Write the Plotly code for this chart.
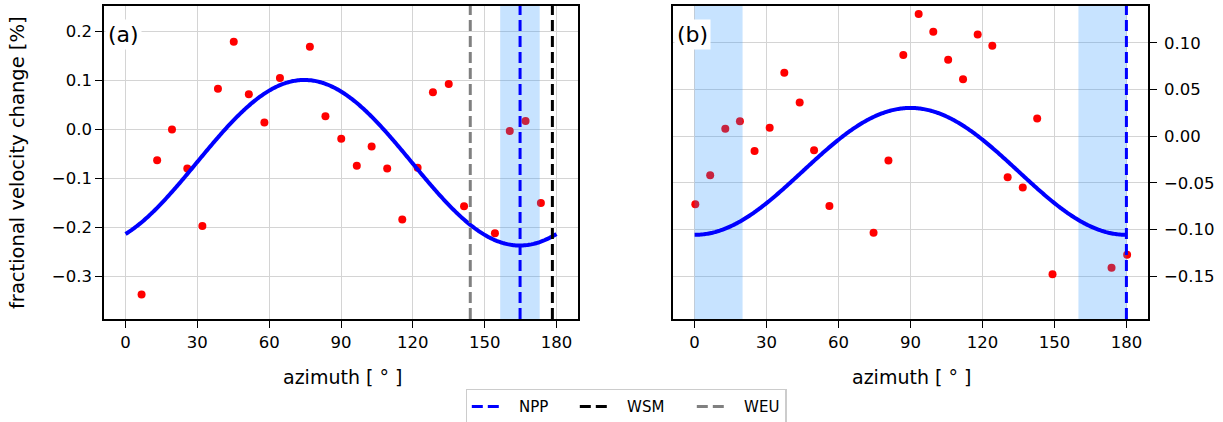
import numpy as np
import plotly.graph_objects as go

# ---------------- data ----------------
az_a = [6.7, 13.2, 19.4, 25.8, 32.1, 38.6, 45.2, 51.5, 58.0, 64.5, 77.0, 83.5,
        90.1, 96.6, 102.8, 109.3, 115.6, 122.0, 128.4, 135.0, 141.4, 154.3,
        160.5, 167.1, 173.5]
dv_a = [-0.337, -0.063, 0.000, -0.080, -0.197, 0.083, 0.179, 0.072, 0.014,
        0.105, 0.169, 0.027, -0.019, -0.074, -0.035, -0.080, -0.184, -0.078,
        0.076, 0.093, -0.157, -0.212, -0.003, 0.017, -0.150]

az_b = [0.3, 6.5, 12.8, 18.9, 25.0, 31.3, 37.4, 43.8, 49.8, 56.2, 74.6, 80.8,
        87.0, 93.4, 99.5, 105.7, 111.9, 118.0, 124.1, 130.5, 136.8, 142.8,
        149.2, 173.8, 180.3]
dv_b = [-0.073, -0.042, 0.008, 0.016, -0.016, 0.009, 0.068, 0.036, -0.015,
        -0.075, -0.1035, -0.026, 0.087, 0.131, 0.112, 0.082, 0.061, 0.109,
        0.097, -0.044, -0.055, 0.019, -0.148, -0.141, -0.127]

# cosine fit parameters (amplitude, azimuth of maximum, offset)
fit_a = dict(amp=0.169, phase=74.7, offset=-0.068)
fit_b = dict(amp=0.068, phase=90.0, offset=-0.0378)

# reference directions
npp_a, wsm_a, weu_a = 164.8, 178.3, 144.0
npp_a_span = [156.5, 173.0]
npp_b = 180.0
npp_b_spans = [[0.0, 20.0], [160.0, 180.0]]

x_ticks = [0, 30, 60, 90, 120, 150, 180]
y_ticks_a = [-0.3, -0.2, -0.1, 0.0, 0.1, 0.2]
y_ticks_b = [-0.15, -0.10, -0.05, 0.00, 0.05, 0.10]

x_range = [-9, 189]
y_range_a = [-0.387, 0.252]
y_range_b = [-0.196, 0.1395]

# ---------------- figure ----------------
W, H = 1223, 422
FONT = "DejaVu Sans"
BLUE, RED = "#0000ff", "#ff0000"
SPAN = "rgba(30,144,255,0.25)"
DASH = "11px,5px"
LEG_PAD = "\u2002\u00a0"


def cos_fit(theta, p):
    return p["offset"] + p["amp"] * np.cos(np.deg2rad(2 * (theta - p["phase"])))


theta = np.linspace(0, 180, 361)
fig = go.Figure()

# points
fig.add_trace(go.Scatter(x=az_a, y=dv_a, mode="markers", marker=dict(color=RED, size=8),
                         showlegend=False, xaxis="x", yaxis="y"))
fig.add_trace(go.Scatter(x=az_b, y=dv_b, mode="markers", marker=dict(color=RED, size=8),
                         showlegend=False, xaxis="x2", yaxis="y2"))


def span(x0, x1, yr, xa, ya):
    fig.add_trace(go.Scatter(x=[x0, x1, x1, x0, x0], y=[yr[0], yr[0], yr[1], yr[1], yr[0]],
                             mode="lines", fill="toself", fillcolor=SPAN,
                             line=dict(width=0), hoverinfo="skip", showlegend=False,
                             xaxis=xa, yaxis=ya))


span(npp_a_span[0], npp_a_span[1], y_range_a, "x", "y")
for s in npp_b_spans:
    span(s[0], s[1], y_range_b, "x2", "y2")

# fit curves
fig.add_trace(go.Scatter(x=theta, y=cos_fit(theta, fit_a), mode="lines",
                         line=dict(color=BLUE, width=4, simplify=False),
                         showlegend=False, xaxis="x", yaxis="y"))
fig.add_trace(go.Scatter(x=theta, y=cos_fit(theta, fit_b), mode="lines",
                         line=dict(color=BLUE, width=4, simplify=False),
                         showlegend=False, xaxis="x2", yaxis="y2"))


def vline(x, yr, color, name, xa, ya, legend, lw=None):
    kw = dict(legendwidth=lw) if lw else {}
    fig.add_trace(go.Scatter(x=[x, x], y=[yr[0], yr[1]], mode="lines", name=LEG_PAD + name,
                             line=dict(color=color, width=3, dash=DASH),
                             showlegend=legend, xaxis=xa, yaxis=ya, **kw))


vline(npp_a, y_range_a, BLUE, "NPP", "x", "y", True, 63)
vline(wsm_a, y_range_a, "black", "WSM", "x", "y", True, 72)
vline(weu_a, y_range_a, "#808080", "WEU", "x", "y", True)
vline(npp_b, y_range_b, BLUE, "NPP", "x2", "y2", False)

axis_common = dict(showline=True, linecolor="black", linewidth=1.5, mirror=True,
                   ticks="outside", ticklen=7, tickwidth=1.3, tickcolor="black",
                   showgrid=True, gridcolor="#d4d4d4", gridwidth=1.3, zeroline=False,
                   automargin=False,
                   tickfont=dict(family=FONT, size=16.5, color="black"))

yd = [103 / H, 416 / H]
fig.update_layout(
    width=W, height=H,
    margin=dict(l=0, r=0, t=0, b=0, autoexpand=False),
    paper_bgcolor="white", plot_bgcolor="white",
    font=dict(family=FONT, color="black"),
    xaxis=dict(domain=[104 / W, 578 / W], range=x_range, tickvals=x_ticks,
               anchor="y", **axis_common),
    yaxis=dict(domain=yd, range=y_range_a, tickvals=y_ticks_a, tickformat=".1f",
               anchor="x", **axis_common),
    xaxis2=dict(domain=[673 / W, 1148 / W], range=x_range, tickvals=x_ticks,
                anchor="y2", **axis_common),
    yaxis2=dict(domain=yd, range=y_range_b, tickvals=y_ticks_b, tickformat=".2f",
                anchor="x2", side="right", ticklabelstandoff=4, **axis_common),
    legend=dict(orientation="h", x=626 / W, xanchor="center", y=1 - 389 / H, yanchor="top",
                bordercolor="#cccccc", borderwidth=1.3, bgcolor="white",
                font=dict(family=FONT, size=15, color="black"),
                itemwidth=30, tracegroupgap=0),
    showlegend=True,
)

ann = [
    dict(text="fractional velocity change [%]", x=18 / W, y=1 - 163 / H, textangle=-90,
         font=dict(size=19.5)),
    dict(text="azimuth [ ° ]", x=342 / W, y=1 - 377 / H, font=dict(size=19)),
    dict(text="azimuth [ ° ]", x=911 / W, y=1 - 377 / H, font=dict(size=19)),
    dict(text="(a)", x=105 / W, y=1 - 34 / H, xanchor="left", font=dict(size=22),
         bgcolor="white", borderpad=2),
    dict(text="(b)", x=674 / W, y=1 - 34 / H, xanchor="left", font=dict(size=22),
         bgcolor="white", borderpad=2),
]
for a in ann:
    a.setdefault("xanchor", "center")
    a.update(xref="paper", yref="paper", yanchor="middle", showarrow=False)
    a["font"] = dict(family=FONT, color="black", **a["font"])
    fig.add_annotation(**a)

fig.write_html("out.html", config={"displayModeBar": False},
               post_script="document.body.style.margin='0';document.body.style.overflow='hidden';")
